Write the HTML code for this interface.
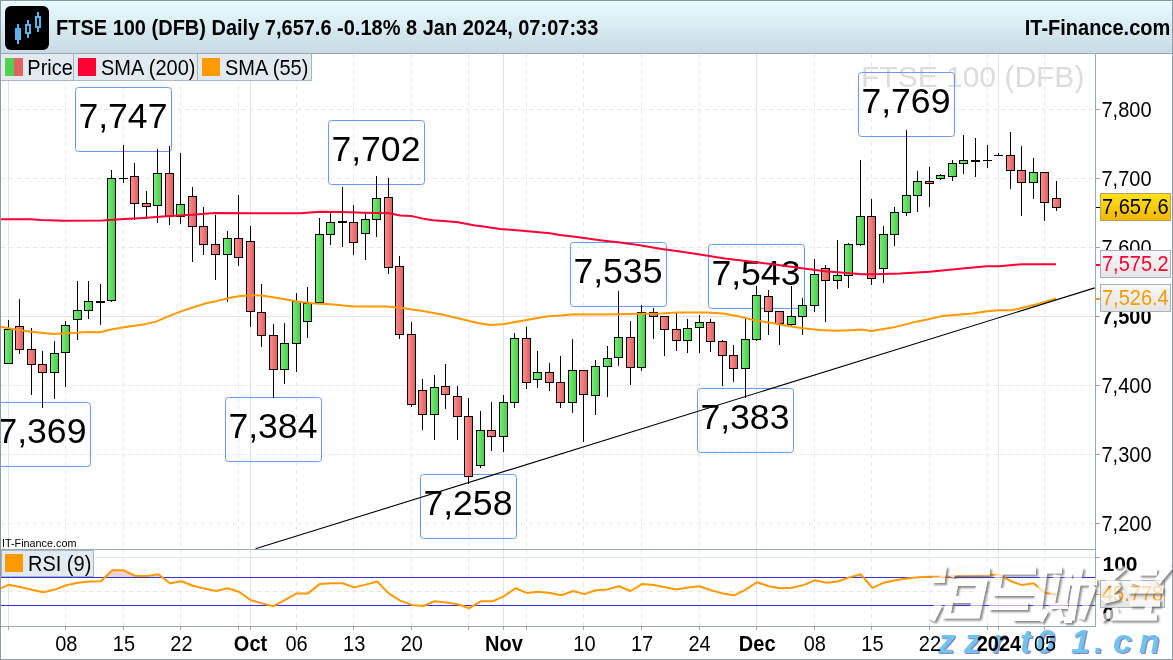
<!DOCTYPE html><html><head><meta charset="utf-8"><title>FTSE 100</title><style>
html,body{margin:0;padding:0;width:1173px;height:660px;overflow:hidden;background:#fff}
svg{display:block}svg text{font-family:"Liberation Sans",sans-serif}
</style></head><body>
<svg width="1173" height="660" viewBox="0 0 1173 660">
<defs>
<linearGradient id="hdr" x1="0" y1="0" x2="0" y2="1"><stop offset="0" stop-color="#e8fcff"/><stop offset="1" stop-color="#c8dae4"/></linearGradient>
<linearGradient id="gf" x1="0" y1="0" x2="1" y2="0"><stop offset="0" stop-color="#74ee74"/><stop offset="1" stop-color="#4ccc4c"/></linearGradient>
<linearGradient id="rf" x1="0" y1="0" x2="1" y2="0"><stop offset="0" stop-color="#ff8c8c"/><stop offset="1" stop-color="#de6262"/></linearGradient>
<linearGradient id="yl" x1="0" y1="0" x2="0" y2="1"><stop offset="0" stop-color="#ffe21a"/><stop offset="1" stop-color="#f2b600"/></linearGradient>
<linearGradient id="lb" x1="0" y1="0" x2="0" y2="1"><stop offset="0" stop-color="#f8f8f8"/><stop offset="1" stop-color="#e4e4e4"/></linearGradient>
</defs>
<rect x="0" y="0" width="1173" height="660" fill="#fff"/>
<g shape-rendering="crispEdges"><line x1="1" y1="523.5" x2="1095" y2="523.5" stroke="#e7e7e7" stroke-width="1" stroke-dasharray="4 4"/><line x1="1" y1="454.5" x2="1095" y2="454.5" stroke="#e7e7e7" stroke-width="1" stroke-dasharray="4 4"/><line x1="1" y1="385.5" x2="1095" y2="385.5" stroke="#e7e7e7" stroke-width="1" stroke-dasharray="4 4"/><line x1="1" y1="316.5" x2="1095" y2="316.5" stroke="#e3e3e3" stroke-width="1"/><line x1="1" y1="247.5" x2="1095" y2="247.5" stroke="#e7e7e7" stroke-width="1" stroke-dasharray="4 4"/><line x1="1" y1="178.5" x2="1095" y2="178.5" stroke="#e7e7e7" stroke-width="1" stroke-dasharray="4 4"/><line x1="1" y1="109.5" x2="1095" y2="109.5" stroke="#e7e7e7" stroke-width="1" stroke-dasharray="4 4"/><line x1="8.5" y1="54" x2="8.5" y2="626" stroke="#e3e3e3" stroke-width="1"/><line x1="65.5" y1="54" x2="65.5" y2="626" stroke="#e7e7e7" stroke-width="1" stroke-dasharray="4 4"/><line x1="123.5" y1="54" x2="123.5" y2="626" stroke="#e7e7e7" stroke-width="1" stroke-dasharray="4 4"/><line x1="180.5" y1="54" x2="180.5" y2="626" stroke="#e7e7e7" stroke-width="1" stroke-dasharray="4 4"/><line x1="238.5" y1="54" x2="238.5" y2="626" stroke="#e7e7e7" stroke-width="1" stroke-dasharray="4 4"/><line x1="250.5" y1="54" x2="250.5" y2="626" stroke="#e3e3e3" stroke-width="1"/><line x1="296.5" y1="54" x2="296.5" y2="626" stroke="#e7e7e7" stroke-width="1" stroke-dasharray="4 4"/><line x1="353.5" y1="54" x2="353.5" y2="626" stroke="#e7e7e7" stroke-width="1" stroke-dasharray="4 4"/><line x1="411.5" y1="54" x2="411.5" y2="626" stroke="#e7e7e7" stroke-width="1" stroke-dasharray="4 4"/><line x1="468.5" y1="54" x2="468.5" y2="626" stroke="#e7e7e7" stroke-width="1" stroke-dasharray="4 4"/><line x1="503.5" y1="54" x2="503.5" y2="626" stroke="#e3e3e3" stroke-width="1"/><line x1="526.5" y1="54" x2="526.5" y2="626" stroke="#e7e7e7" stroke-width="1" stroke-dasharray="4 4"/><line x1="583.5" y1="54" x2="583.5" y2="626" stroke="#e7e7e7" stroke-width="1" stroke-dasharray="4 4"/><line x1="641.5" y1="54" x2="641.5" y2="626" stroke="#e7e7e7" stroke-width="1" stroke-dasharray="4 4"/><line x1="699.5" y1="54" x2="699.5" y2="626" stroke="#e7e7e7" stroke-width="1" stroke-dasharray="4 4"/><line x1="756.5" y1="54" x2="756.5" y2="626" stroke="#e3e3e3" stroke-width="1"/><line x1="814.5" y1="54" x2="814.5" y2="626" stroke="#e7e7e7" stroke-width="1" stroke-dasharray="4 4"/><line x1="871.5" y1="54" x2="871.5" y2="626" stroke="#e7e7e7" stroke-width="1" stroke-dasharray="4 4"/><line x1="929.5" y1="54" x2="929.5" y2="626" stroke="#e7e7e7" stroke-width="1" stroke-dasharray="4 4"/><line x1="987.5" y1="54" x2="987.5" y2="626" stroke="#e7e7e7" stroke-width="1" stroke-dasharray="4 4"/><line x1="998.5" y1="54" x2="998.5" y2="626" stroke="#e3e3e3" stroke-width="1"/><line x1="1044.5" y1="54" x2="1044.5" y2="626" stroke="#e7e7e7" stroke-width="1" stroke-dasharray="4 4"/></g>
<text x="861" y="86.5" font-size="30" fill="#dcdcdc">FTSE 100 (DFB)</text>
<rect x="75.5" y="87.5" width="96" height="64" rx="3" ry="3" fill="none" stroke="#6b9af2" stroke-width="1"/>
<text x="78.4" y="128.1" font-size="35.6" fill="#000">7,747</text>
<rect x="328.5" y="120.5" width="96" height="64" rx="3" ry="3" fill="none" stroke="#6b9af2" stroke-width="1"/>
<text x="331.4" y="161.1" font-size="35.6" fill="#000">7,702</text>
<rect x="858.5" y="72.5" width="96" height="64" rx="3" ry="3" fill="none" stroke="#6b9af2" stroke-width="1"/>
<text x="861.4" y="113.1" font-size="35.6" fill="#000">7,769</text>
<rect x="570.5" y="242.5" width="96" height="64" rx="3" ry="3" fill="none" stroke="#6b9af2" stroke-width="1"/>
<text x="573.4" y="283.1" font-size="35.6" fill="#000">7,535</text>
<rect x="708.5" y="244.5" width="96" height="64" rx="3" ry="3" fill="none" stroke="#6b9af2" stroke-width="1"/>
<text x="711.4" y="285.1" font-size="35.6" fill="#000">7,543</text>
<rect x="-5.5" y="402.5" width="96" height="64" rx="3" ry="3" fill="none" stroke="#6b9af2" stroke-width="1"/>
<text x="-2.6" y="443.1" font-size="35.6" fill="#000">7,369</text>
<rect x="225.5" y="397.5" width="96" height="64" rx="3" ry="3" fill="none" stroke="#6b9af2" stroke-width="1"/>
<text x="228.4" y="438.1" font-size="35.6" fill="#000">7,384</text>
<rect x="420.5" y="474.5" width="96" height="64" rx="3" ry="3" fill="none" stroke="#6b9af2" stroke-width="1"/>
<text x="423.4" y="515.1" font-size="35.6" fill="#000">7,258</text>
<rect x="697.5" y="388.5" width="96" height="64" rx="3" ry="3" fill="none" stroke="#6b9af2" stroke-width="1"/>
<text x="700.4" y="429.1" font-size="35.6" fill="#000">7,383</text>
<g shape-rendering="crispEdges"><rect x="8" y="320" width="1" height="44" fill="#000"/><rect x="4" y="329" width="9" height="35" fill="#000"/><rect x="5" y="330" width="7" height="33" fill="url(#gf)"/><rect x="19" y="299" width="1" height="55" fill="#000"/><rect x="15" y="326" width="9" height="24" fill="#000"/><rect x="16" y="327" width="7" height="22" fill="url(#rf)"/><rect x="31" y="328" width="1" height="67" fill="#000"/><rect x="27" y="349" width="9" height="16" fill="#000"/><rect x="28" y="350" width="7" height="14" fill="url(#rf)"/><rect x="42" y="351" width="1" height="57" fill="#000"/><rect x="38" y="364" width="9" height="9" fill="#000"/><rect x="39" y="365" width="7" height="7" fill="url(#rf)"/><rect x="54" y="341" width="1" height="58" fill="#000"/><rect x="50" y="353" width="9" height="20" fill="#000"/><rect x="51" y="354" width="7" height="18" fill="url(#gf)"/><rect x="65" y="321" width="1" height="66" fill="#000"/><rect x="61" y="325" width="9" height="28" fill="#000"/><rect x="62" y="326" width="7" height="26" fill="url(#gf)"/><rect x="77" y="281" width="1" height="59" fill="#000"/><rect x="73" y="310" width="9" height="10" fill="#000"/><rect x="74" y="311" width="7" height="8" fill="url(#gf)"/><rect x="88" y="281" width="1" height="38" fill="#000"/><rect x="84" y="301" width="9" height="10" fill="#000"/><rect x="85" y="302" width="7" height="8" fill="url(#gf)"/><rect x="100" y="284" width="1" height="41" fill="#000"/><rect x="96" y="301" width="9" height="2" fill="#000"/><rect x="111" y="170" width="1" height="132" fill="#000"/><rect x="107" y="178" width="9" height="123" fill="#000"/><rect x="108" y="179" width="7" height="121" fill="url(#gf)"/><rect x="123" y="145" width="1" height="38" fill="#000"/><rect x="119" y="178" width="9" height="1" fill="#000"/><rect x="134" y="163" width="1" height="57" fill="#000"/><rect x="130" y="176" width="9" height="28" fill="#000"/><rect x="131" y="177" width="7" height="26" fill="url(#rf)"/><rect x="146" y="191" width="1" height="28" fill="#000"/><rect x="142" y="203" width="9" height="4" fill="#000"/><rect x="143" y="204" width="7" height="2" fill="url(#rf)"/><rect x="157" y="149" width="1" height="74" fill="#000"/><rect x="153" y="173" width="9" height="33" fill="#000"/><rect x="154" y="174" width="7" height="31" fill="url(#gf)"/><rect x="169" y="146" width="1" height="79" fill="#000"/><rect x="165" y="173" width="9" height="44" fill="#000"/><rect x="166" y="174" width="7" height="42" fill="url(#rf)"/><rect x="180" y="153" width="1" height="71" fill="#000"/><rect x="176" y="204" width="9" height="13" fill="#000"/><rect x="177" y="205" width="7" height="11" fill="url(#gf)"/><rect x="192" y="187" width="1" height="75" fill="#000"/><rect x="188" y="196" width="9" height="31" fill="#000"/><rect x="189" y="197" width="7" height="29" fill="url(#rf)"/><rect x="203" y="207" width="1" height="48" fill="#000"/><rect x="199" y="226" width="9" height="19" fill="#000"/><rect x="200" y="227" width="7" height="17" fill="url(#rf)"/><rect x="215" y="215" width="1" height="65" fill="#000"/><rect x="211" y="244" width="9" height="11" fill="#000"/><rect x="212" y="245" width="7" height="9" fill="url(#rf)"/><rect x="227" y="231" width="1" height="71" fill="#000"/><rect x="223" y="238" width="9" height="17" fill="#000"/><rect x="224" y="239" width="7" height="15" fill="url(#gf)"/><rect x="238" y="195" width="1" height="71" fill="#000"/><rect x="234" y="238" width="9" height="20" fill="#000"/><rect x="235" y="239" width="7" height="18" fill="url(#rf)"/><rect x="250" y="226" width="1" height="101" fill="#000"/><rect x="246" y="241" width="9" height="71" fill="#000"/><rect x="247" y="242" width="7" height="69" fill="url(#rf)"/><rect x="261" y="284" width="1" height="63" fill="#000"/><rect x="257" y="312" width="9" height="24" fill="#000"/><rect x="258" y="313" width="7" height="22" fill="url(#rf)"/><rect x="273" y="324" width="1" height="74" fill="#000"/><rect x="269" y="335" width="9" height="35" fill="#000"/><rect x="270" y="336" width="7" height="33" fill="url(#rf)"/><rect x="284" y="323" width="1" height="61" fill="#000"/><rect x="280" y="343" width="9" height="27" fill="#000"/><rect x="281" y="344" width="7" height="25" fill="url(#gf)"/><rect x="296" y="293" width="1" height="79" fill="#000"/><rect x="292" y="301" width="9" height="43" fill="#000"/><rect x="293" y="302" width="7" height="41" fill="url(#gf)"/><rect x="307" y="287" width="1" height="51" fill="#000"/><rect x="303" y="303" width="9" height="19" fill="#000"/><rect x="304" y="304" width="7" height="17" fill="url(#gf)"/><rect x="319" y="218" width="1" height="85" fill="#000"/><rect x="315" y="234" width="9" height="69" fill="#000"/><rect x="316" y="235" width="7" height="67" fill="url(#gf)"/><rect x="330" y="212" width="1" height="33" fill="#000"/><rect x="326" y="222" width="9" height="13" fill="#000"/><rect x="327" y="223" width="7" height="11" fill="url(#gf)"/><rect x="342" y="187" width="1" height="60" fill="#000"/><rect x="338" y="221" width="9" height="2" fill="#000"/><rect x="353" y="205" width="1" height="50" fill="#000"/><rect x="349" y="222" width="9" height="21" fill="#000"/><rect x="350" y="223" width="7" height="19" fill="url(#rf)"/><rect x="365" y="212" width="1" height="48" fill="#000"/><rect x="361" y="219" width="9" height="15" fill="#000"/><rect x="362" y="220" width="7" height="13" fill="url(#gf)"/><rect x="376" y="176" width="1" height="61" fill="#000"/><rect x="372" y="198" width="9" height="22" fill="#000"/><rect x="373" y="199" width="7" height="20" fill="url(#gf)"/><rect x="388" y="178" width="1" height="96" fill="#000"/><rect x="384" y="197" width="9" height="71" fill="#000"/><rect x="385" y="198" width="7" height="69" fill="url(#rf)"/><rect x="399" y="256" width="1" height="83" fill="#000"/><rect x="395" y="266" width="9" height="69" fill="#000"/><rect x="396" y="267" width="7" height="67" fill="url(#rf)"/><rect x="411" y="322" width="1" height="85" fill="#000"/><rect x="407" y="334" width="9" height="71" fill="#000"/><rect x="408" y="335" width="7" height="69" fill="url(#rf)"/><rect x="422" y="379" width="1" height="51" fill="#000"/><rect x="418" y="390" width="9" height="25" fill="#000"/><rect x="419" y="391" width="7" height="23" fill="url(#rf)"/><rect x="434" y="375" width="1" height="65" fill="#000"/><rect x="430" y="387" width="9" height="28" fill="#000"/><rect x="431" y="388" width="7" height="26" fill="url(#gf)"/><rect x="445" y="364" width="1" height="45" fill="#000"/><rect x="441" y="386" width="9" height="9" fill="#000"/><rect x="442" y="387" width="7" height="7" fill="url(#rf)"/><rect x="457" y="386" width="1" height="54" fill="#000"/><rect x="453" y="396" width="9" height="21" fill="#000"/><rect x="454" y="397" width="7" height="19" fill="url(#rf)"/><rect x="468" y="398" width="1" height="86" fill="#000"/><rect x="464" y="416" width="9" height="61" fill="#000"/><rect x="465" y="417" width="7" height="59" fill="url(#rf)"/><rect x="480" y="411" width="1" height="57" fill="#000"/><rect x="476" y="430" width="9" height="36" fill="#000"/><rect x="477" y="431" width="7" height="34" fill="url(#gf)"/><rect x="491" y="402" width="1" height="49" fill="#000"/><rect x="487" y="430" width="9" height="7" fill="#000"/><rect x="488" y="431" width="7" height="5" fill="url(#rf)"/><rect x="503" y="395" width="1" height="57" fill="#000"/><rect x="499" y="402" width="9" height="35" fill="#000"/><rect x="500" y="403" width="7" height="33" fill="url(#gf)"/><rect x="514" y="333" width="1" height="75" fill="#000"/><rect x="510" y="338" width="9" height="65" fill="#000"/><rect x="511" y="339" width="7" height="63" fill="url(#gf)"/><rect x="526" y="327" width="1" height="62" fill="#000"/><rect x="522" y="338" width="9" height="45" fill="#000"/><rect x="523" y="339" width="7" height="43" fill="url(#rf)"/><rect x="537" y="351" width="1" height="37" fill="#000"/><rect x="533" y="372" width="9" height="8" fill="#000"/><rect x="534" y="373" width="7" height="6" fill="url(#gf)"/><rect x="549" y="363" width="1" height="28" fill="#000"/><rect x="545" y="372" width="9" height="11" fill="#000"/><rect x="546" y="373" width="7" height="9" fill="url(#rf)"/><rect x="560" y="356" width="1" height="52" fill="#000"/><rect x="556" y="382" width="9" height="21" fill="#000"/><rect x="557" y="383" width="7" height="19" fill="url(#rf)"/><rect x="572" y="339" width="1" height="74" fill="#000"/><rect x="568" y="370" width="9" height="33" fill="#000"/><rect x="569" y="371" width="7" height="31" fill="url(#gf)"/><rect x="583" y="370" width="1" height="72" fill="#000"/><rect x="579" y="370" width="9" height="25" fill="#000"/><rect x="580" y="371" width="7" height="23" fill="url(#rf)"/><rect x="595" y="360" width="1" height="55" fill="#000"/><rect x="591" y="366" width="9" height="30" fill="#000"/><rect x="592" y="367" width="7" height="28" fill="url(#gf)"/><rect x="607" y="346" width="1" height="51" fill="#000"/><rect x="603" y="358" width="9" height="9" fill="#000"/><rect x="604" y="359" width="7" height="7" fill="url(#gf)"/><rect x="618" y="291" width="1" height="75" fill="#000"/><rect x="614" y="337" width="9" height="21" fill="#000"/><rect x="615" y="338" width="7" height="19" fill="url(#gf)"/><rect x="630" y="321" width="1" height="64" fill="#000"/><rect x="626" y="337" width="9" height="31" fill="#000"/><rect x="627" y="338" width="7" height="29" fill="url(#rf)"/><rect x="641" y="305" width="1" height="66" fill="#000"/><rect x="637" y="312" width="9" height="56" fill="#000"/><rect x="638" y="313" width="7" height="54" fill="url(#gf)"/><rect x="653" y="308" width="1" height="31" fill="#000"/><rect x="649" y="312" width="9" height="5" fill="#000"/><rect x="650" y="313" width="7" height="3" fill="url(#rf)"/><rect x="664" y="316" width="1" height="40" fill="#000"/><rect x="660" y="316" width="9" height="14" fill="#000"/><rect x="661" y="317" width="7" height="12" fill="url(#rf)"/><rect x="676" y="313" width="1" height="38" fill="#000"/><rect x="672" y="329" width="9" height="12" fill="#000"/><rect x="673" y="330" width="7" height="10" fill="url(#rf)"/><rect x="687" y="319" width="1" height="34" fill="#000"/><rect x="683" y="328" width="9" height="13" fill="#000"/><rect x="684" y="329" width="7" height="11" fill="url(#gf)"/><rect x="699" y="315" width="1" height="38" fill="#000"/><rect x="695" y="322" width="9" height="6" fill="#000"/><rect x="696" y="323" width="7" height="4" fill="url(#gf)"/><rect x="710" y="319" width="1" height="33" fill="#000"/><rect x="706" y="322" width="9" height="20" fill="#000"/><rect x="707" y="323" width="7" height="18" fill="url(#rf)"/><rect x="722" y="340" width="1" height="46" fill="#000"/><rect x="718" y="341" width="9" height="15" fill="#000"/><rect x="719" y="342" width="7" height="13" fill="url(#rf)"/><rect x="733" y="345" width="1" height="37" fill="#000"/><rect x="729" y="355" width="9" height="14" fill="#000"/><rect x="730" y="356" width="7" height="12" fill="url(#rf)"/><rect x="745" y="318" width="1" height="80" fill="#000"/><rect x="741" y="339" width="9" height="30" fill="#000"/><rect x="742" y="340" width="7" height="28" fill="url(#gf)"/><rect x="756" y="286" width="1" height="55" fill="#000"/><rect x="752" y="295" width="9" height="45" fill="#000"/><rect x="753" y="296" width="7" height="43" fill="url(#gf)"/><rect x="768" y="290" width="1" height="45" fill="#000"/><rect x="764" y="296" width="9" height="16" fill="#000"/><rect x="765" y="297" width="7" height="14" fill="url(#rf)"/><rect x="779" y="311" width="1" height="34" fill="#000"/><rect x="775" y="311" width="9" height="13" fill="#000"/><rect x="776" y="312" width="7" height="11" fill="url(#rf)"/><rect x="791" y="286" width="1" height="40" fill="#000"/><rect x="787" y="316" width="9" height="9" fill="#000"/><rect x="788" y="317" width="7" height="7" fill="url(#gf)"/><rect x="802" y="298" width="1" height="37" fill="#000"/><rect x="798" y="305" width="9" height="12" fill="#000"/><rect x="799" y="306" width="7" height="10" fill="url(#gf)"/><rect x="814" y="259" width="1" height="53" fill="#000"/><rect x="810" y="274" width="9" height="32" fill="#000"/><rect x="811" y="275" width="7" height="30" fill="url(#gf)"/><rect x="825" y="265" width="1" height="57" fill="#000"/><rect x="821" y="268" width="9" height="13" fill="#000"/><rect x="822" y="269" width="7" height="11" fill="url(#rf)"/><rect x="837" y="240" width="1" height="49" fill="#000"/><rect x="833" y="275" width="9" height="6" fill="#000"/><rect x="834" y="276" width="7" height="4" fill="url(#gf)"/><rect x="848" y="243" width="1" height="45" fill="#000"/><rect x="844" y="244" width="9" height="32" fill="#000"/><rect x="845" y="245" width="7" height="30" fill="url(#gf)"/><rect x="860" y="160" width="1" height="86" fill="#000"/><rect x="856" y="216" width="9" height="29" fill="#000"/><rect x="857" y="217" width="7" height="27" fill="url(#gf)"/><rect x="871" y="199" width="1" height="86" fill="#000"/><rect x="867" y="216" width="9" height="63" fill="#000"/><rect x="868" y="217" width="7" height="61" fill="url(#rf)"/><rect x="883" y="226" width="1" height="57" fill="#000"/><rect x="879" y="234" width="9" height="35" fill="#000"/><rect x="880" y="235" width="7" height="33" fill="url(#gf)"/><rect x="894" y="207" width="1" height="39" fill="#000"/><rect x="890" y="212" width="9" height="23" fill="#000"/><rect x="891" y="213" width="7" height="21" fill="url(#gf)"/><rect x="906" y="130" width="1" height="86" fill="#000"/><rect x="902" y="195" width="9" height="18" fill="#000"/><rect x="903" y="196" width="7" height="16" fill="url(#gf)"/><rect x="917" y="171" width="1" height="41" fill="#000"/><rect x="913" y="181" width="9" height="15" fill="#000"/><rect x="914" y="182" width="7" height="13" fill="url(#gf)"/><rect x="929" y="167" width="1" height="40" fill="#000"/><rect x="925" y="181" width="9" height="3" fill="#000"/><rect x="926" y="182" width="7" height="1" fill="url(#rf)"/><rect x="940" y="174" width="1" height="6" fill="#000"/><rect x="936" y="175" width="9" height="4" fill="#000"/><rect x="937" y="176" width="7" height="2" fill="url(#gf)"/><rect x="952" y="160" width="1" height="21" fill="#000"/><rect x="948" y="163" width="9" height="14" fill="#000"/><rect x="949" y="164" width="7" height="12" fill="url(#gf)"/><rect x="963" y="135" width="1" height="39" fill="#000"/><rect x="959" y="160" width="9" height="4" fill="#000"/><rect x="960" y="161" width="7" height="2" fill="url(#gf)"/><rect x="975" y="138" width="1" height="39" fill="#000"/><rect x="971" y="160" width="9" height="2" fill="#000"/><rect x="987" y="145" width="1" height="23" fill="#000"/><rect x="983" y="160" width="9" height="1" fill="#000"/><rect x="998" y="153" width="1" height="3" fill="#000"/><rect x="994" y="155" width="9" height="1" fill="#000"/><rect x="1010" y="132" width="1" height="57" fill="#000"/><rect x="1006" y="155" width="9" height="16" fill="#000"/><rect x="1007" y="156" width="7" height="14" fill="url(#rf)"/><rect x="1021" y="146" width="1" height="70" fill="#000"/><rect x="1017" y="170" width="9" height="13" fill="#000"/><rect x="1018" y="171" width="7" height="11" fill="url(#rf)"/><rect x="1033" y="158" width="1" height="41" fill="#000"/><rect x="1029" y="172" width="9" height="11" fill="#000"/><rect x="1030" y="173" width="7" height="9" fill="url(#gf)"/><rect x="1044" y="172" width="1" height="49" fill="#000"/><rect x="1040" y="172" width="9" height="31" fill="#000"/><rect x="1041" y="173" width="7" height="29" fill="url(#rf)"/><rect x="1056" y="181" width="1" height="30" fill="#000"/><rect x="1052" y="198" width="9" height="10" fill="#000"/><rect x="1053" y="199" width="7" height="8" fill="url(#rf)"/></g>
<polyline points="0.0,219.3 30.7,219.3 40.9,220.0 64.0,220.8 102.3,220.6 120.2,219.3 143.2,218.0 166.2,216.2 191.8,214.7 214.8,212.9 255.8,213.2 300.0,213.2 320.5,211.8 340.9,212.0 363.9,212.8 389.5,213.3 400.0,215.5 411.0,215.9 425.0,219.1 433.0,220.2 450.0,221.6 458.0,222.3 475.0,225.5 480.0,226.1 500.0,228.9 525.0,231.1 550.0,233.2 560.0,235.0 575.0,236.7 600.0,240.2 620.0,242.6 640.0,245.3 660.0,248.8 680.0,251.5 700.0,254.5 725.0,258.6 750.0,261.6 775.0,264.6 800.0,268.0 825.0,271.3 850.0,273.2 862.0,274.2 875.0,274.3 900.0,273.6 929.6,271.7 962.3,268.6 986.9,266.2 999.1,266.2 1021.6,264.3 1056.0,264.3" fill="none" stroke="#ff0033" stroke-width="2" stroke-linejoin="round"/>
<polyline points="0.0,326.7 12.8,329.0 25.6,331.0 38.4,332.6 53.7,334.1 66.5,333.1 76.7,332.8 87.0,332.1 99.7,332.3 110.0,329.8 125.3,327.0 143.2,324.6 156.0,321.6 168.8,316.2 181.6,311.1 194.4,307.0 207.2,302.9 217.4,300.9 230.2,297.8 240.4,296.0 255.8,295.2 263.4,295.7 276.2,297.8 300.0,302.0 315.3,303.6 330.7,304.3 353.7,306.4 387.0,306.4 402.3,307.9 422.8,311.0 443.2,314.8 466.2,320.2 479.0,323.2 490.5,325.0 504.6,324.0 525.0,320.2 548.0,316.3 560.9,315.6 573.7,314.3 590.0,314.5 615.6,314.2 641.2,313.7 661.6,313.4 677.0,312.4 707.6,312.4 723.0,313.4 738.3,316.2 753.7,320.1 769.0,322.6 784.4,325.2 802.3,328.2 820.2,330.0 835.5,330.8 850.9,330.3 861.1,329.5 871.3,331.0 892.7,327.6 917.3,321.4 929.6,319.0 941.8,316.1 972.5,313.6 986.9,311.2 999.1,310.2 1011.4,310.2 1023.7,307.5 1040.0,303.4 1056.0,298.5" fill="none" stroke="#ff9900" stroke-width="2" stroke-linejoin="round"/>
<line x1="255.5" y1="548.8" x2="1094.8" y2="287.9" stroke="#000" stroke-width="1.1"/>
<rect x="1" y="550" width="1094" height="76" fill="#fff"/><g shape-rendering="crispEdges"><line x1="8.5" y1="550" x2="8.5" y2="626" stroke="#e3e3e3"/><line x1="65.5" y1="550" x2="65.5" y2="626" stroke="#e7e7e7" stroke-dasharray="4 4"/><line x1="123.5" y1="550" x2="123.5" y2="626" stroke="#e7e7e7" stroke-dasharray="4 4"/><line x1="180.5" y1="550" x2="180.5" y2="626" stroke="#e7e7e7" stroke-dasharray="4 4"/><line x1="238.5" y1="550" x2="238.5" y2="626" stroke="#e7e7e7" stroke-dasharray="4 4"/><line x1="250.5" y1="550" x2="250.5" y2="626" stroke="#e3e3e3"/><line x1="296.5" y1="550" x2="296.5" y2="626" stroke="#e7e7e7" stroke-dasharray="4 4"/><line x1="353.5" y1="550" x2="353.5" y2="626" stroke="#e7e7e7" stroke-dasharray="4 4"/><line x1="411.5" y1="550" x2="411.5" y2="626" stroke="#e7e7e7" stroke-dasharray="4 4"/><line x1="468.5" y1="550" x2="468.5" y2="626" stroke="#e7e7e7" stroke-dasharray="4 4"/><line x1="503.5" y1="550" x2="503.5" y2="626" stroke="#e3e3e3"/><line x1="526.5" y1="550" x2="526.5" y2="626" stroke="#e7e7e7" stroke-dasharray="4 4"/><line x1="583.5" y1="550" x2="583.5" y2="626" stroke="#e7e7e7" stroke-dasharray="4 4"/><line x1="641.5" y1="550" x2="641.5" y2="626" stroke="#e7e7e7" stroke-dasharray="4 4"/><line x1="699.5" y1="550" x2="699.5" y2="626" stroke="#e7e7e7" stroke-dasharray="4 4"/><line x1="756.5" y1="550" x2="756.5" y2="626" stroke="#e3e3e3"/><line x1="814.5" y1="550" x2="814.5" y2="626" stroke="#e7e7e7" stroke-dasharray="4 4"/><line x1="871.5" y1="550" x2="871.5" y2="626" stroke="#e7e7e7" stroke-dasharray="4 4"/><line x1="929.5" y1="550" x2="929.5" y2="626" stroke="#e7e7e7" stroke-dasharray="4 4"/><line x1="987.5" y1="550" x2="987.5" y2="626" stroke="#e7e7e7" stroke-dasharray="4 4"/><line x1="998.5" y1="550" x2="998.5" y2="626" stroke="#e3e3e3"/><line x1="1044.5" y1="550" x2="1044.5" y2="626" stroke="#e7e7e7" stroke-dasharray="4 4"/><line x1="1" y1="557.5" x2="1095" y2="557.5" stroke="#e3e3e3"/><line x1="1" y1="591.5" x2="1095" y2="591.5" stroke="#e7e7e7" stroke-dasharray="4 4"/></g>
<clipPath id="ob"><rect x="0" y="550" width="1095" height="27.5"/></clipPath>
<polygon points="0.0,577.5 0.0,588.6 8.7,584.8 20.2,587.0 31.8,589.8 43.3,592.2 54.8,589.6 66.3,585.3 77.8,582.7 89.3,581.5 100.9,581.2 112.4,570.3 123.9,570.3 135.4,576.0 146.9,576.0 158.4,574.3 169.9,583.2 181.5,581.2 193.0,585.8 204.5,588.6 216.0,591.0 227.5,588.2 239.0,591.7 250.5,600.0 262.1,603.4 273.6,606.2 285.1,599.9 296.6,593.4 308.1,593.4 319.6,584.1 331.2,583.2 342.7,583.2 354.2,587.4 365.7,584.6 377.2,581.5 388.7,593.4 400.2,600.6 411.8,604.9 423.3,606.0 434.8,601.3 446.3,602.5 457.8,604.2 469.3,608.2 480.8,601.3 492.4,601.3 503.9,596.3 515.4,588.2 526.9,592.9 538.4,591.7 549.9,592.9 561.5,595.3 573.0,591.0 584.5,594.1 596.0,590.3 607.5,589.4 619.0,586.3 630.5,591.0 642.1,584.1 653.6,585.1 665.1,587.2 676.6,589.4 688.1,587.4 699.6,586.3 711.1,590.3 722.7,593.4 734.2,595.3 745.7,589.6 757.2,582.2 768.7,586.3 780.2,588.2 791.8,587.8 803.3,585.1 814.8,580.3 826.3,582.7 837.8,581.5 849.3,577.4 860.8,574.3 872.4,587.9 883.9,582.7 895.4,580.3 906.9,578.4 918.4,577.2 929.9,576.7 941.4,576.7 953.0,576.2 964.5,575.8 976.0,575.5 987.5,575.5 999.0,574.3 1010.5,581.0 1022.1,585.1 1033.6,583.2 1045.1,592.9 1056.6,594.4 1056.6,577.5" fill="#ecd2d4" clip-path="url(#ob)"/>
<g shape-rendering="crispEdges"><line x1="1" y1="577.5" x2="1095" y2="577.5" stroke="#3333dd"/><line x1="1" y1="605.5" x2="1095" y2="605.5" stroke="#3333dd"/></g>
<polyline points="0.0,588.6 8.7,584.8 20.2,587.0 31.8,589.8 43.3,592.2 54.8,589.6 66.3,585.3 77.8,582.7 89.3,581.5 100.9,581.2 112.4,570.3 123.9,570.3 135.4,576.0 146.9,576.0 158.4,574.3 169.9,583.2 181.5,581.2 193.0,585.8 204.5,588.6 216.0,591.0 227.5,588.2 239.0,591.7 250.5,600.0 262.1,603.4 273.6,606.2 285.1,599.9 296.6,593.4 308.1,593.4 319.6,584.1 331.2,583.2 342.7,583.2 354.2,587.4 365.7,584.6 377.2,581.5 388.7,593.4 400.2,600.6 411.8,604.9 423.3,606.0 434.8,601.3 446.3,602.5 457.8,604.2 469.3,608.2 480.8,601.3 492.4,601.3 503.9,596.3 515.4,588.2 526.9,592.9 538.4,591.7 549.9,592.9 561.5,595.3 573.0,591.0 584.5,594.1 596.0,590.3 607.5,589.4 619.0,586.3 630.5,591.0 642.1,584.1 653.6,585.1 665.1,587.2 676.6,589.4 688.1,587.4 699.6,586.3 711.1,590.3 722.7,593.4 734.2,595.3 745.7,589.6 757.2,582.2 768.7,586.3 780.2,588.2 791.8,587.8 803.3,585.1 814.8,580.3 826.3,582.7 837.8,581.5 849.3,577.4 860.8,574.3 872.4,587.9 883.9,582.7 895.4,580.3 906.9,578.4 918.4,577.2 929.9,576.7 941.4,576.7 953.0,576.2 964.5,575.8 976.0,575.5 987.5,575.5 999.0,574.3 1010.5,581.0 1022.1,585.1 1033.6,583.2 1045.1,592.9 1056.6,594.4" fill="none" stroke="#ff9900" stroke-width="2" stroke-linejoin="round"/>
<g shape-rendering="crispEdges">
<rect x="1" y="549" width="1095" height="1" fill="#98a8b4"/>
<rect x="1" y="626" width="1095" height="1" fill="#98a8b4"/>
<rect x="1095" y="54" width="1" height="573" fill="#98a8b4"/>
<rect x="8" y="627" width="1" height="3" fill="#98a8b4"/>
<rect x="65" y="627" width="1" height="3" fill="#98a8b4"/>
<rect x="123" y="627" width="1" height="3" fill="#98a8b4"/>
<rect x="180" y="627" width="1" height="3" fill="#98a8b4"/>
<rect x="238" y="627" width="1" height="3" fill="#98a8b4"/>
<rect x="250" y="627" width="1" height="3" fill="#98a8b4"/>
<rect x="296" y="627" width="1" height="3" fill="#98a8b4"/>
<rect x="353" y="627" width="1" height="3" fill="#98a8b4"/>
<rect x="411" y="627" width="1" height="3" fill="#98a8b4"/>
<rect x="468" y="627" width="1" height="3" fill="#98a8b4"/>
<rect x="503" y="627" width="1" height="3" fill="#98a8b4"/>
<rect x="526" y="627" width="1" height="3" fill="#98a8b4"/>
<rect x="583" y="627" width="1" height="3" fill="#98a8b4"/>
<rect x="641" y="627" width="1" height="3" fill="#98a8b4"/>
<rect x="699" y="627" width="1" height="3" fill="#98a8b4"/>
<rect x="756" y="627" width="1" height="3" fill="#98a8b4"/>
<rect x="814" y="627" width="1" height="3" fill="#98a8b4"/>
<rect x="871" y="627" width="1" height="3" fill="#98a8b4"/>
<rect x="929" y="627" width="1" height="3" fill="#98a8b4"/>
<rect x="987" y="627" width="1" height="3" fill="#98a8b4"/>
<rect x="998" y="627" width="1" height="3" fill="#98a8b4"/>
<rect x="1044" y="627" width="1" height="3" fill="#98a8b4"/>
<rect x="1096" y="523" width="4" height="1" fill="#98a8b4"/>
<rect x="1096" y="454" width="4" height="1" fill="#98a8b4"/>
<rect x="1096" y="385" width="4" height="1" fill="#98a8b4"/>
<rect x="1096" y="316" width="4" height="1" fill="#98a8b4"/>
<rect x="1096" y="247" width="4" height="1" fill="#98a8b4"/>
<rect x="1096" y="178" width="4" height="1" fill="#98a8b4"/>
<rect x="1096" y="109" width="4" height="1" fill="#98a8b4"/>
<rect x="1096" y="557" width="4" height="1" fill="#98a8b4"/>
</g>
<text x="1101.5" y="531.0" transform="matrix(1,0,0,1.07,0,-37.170)" font-size="20" fill="#000">7,200</text>
<text x="1101.5" y="462.0" transform="matrix(1,0,0,1.07,0,-32.340)" font-size="20" fill="#000">7,300</text>
<text x="1101.5" y="393.0" transform="matrix(1,0,0,1.07,0,-27.510)" font-size="20" fill="#000">7,400</text>
<text x="1101.5" y="324.0" transform="matrix(1,0,0,1.07,0,-22.680)" font-size="20" font-weight="bold" fill="#000">7,500</text>
<text x="1101.5" y="255.0" transform="matrix(1,0,0,1.07,0,-17.850)" font-size="20" fill="#000">7,600</text>
<text x="1101.5" y="186.0" transform="matrix(1,0,0,1.07,0,-13.020)" font-size="20" fill="#000">7,700</text>
<text x="1101.5" y="117.0" transform="matrix(1,0,0,1.07,0,-8.190)" font-size="20" fill="#000">7,800</text>
<text x="66.3" y="651" transform="matrix(1,0,0,1.07,0,-45.570)" font-size="20" text-anchor="middle" fill="#000">08</text>
<text x="123.9" y="651" transform="matrix(1,0,0,1.07,0,-45.570)" font-size="20" text-anchor="middle" fill="#000">15</text>
<text x="181.5" y="651" transform="matrix(1,0,0,1.07,0,-45.570)" font-size="20" text-anchor="middle" fill="#000">22</text>
<text x="250.5" y="651" transform="matrix(1,0,0,1.07,0,-45.570)" font-size="20" text-anchor="middle" font-weight="bold" fill="#000">Oct</text>
<text x="296.6" y="651" transform="matrix(1,0,0,1.07,0,-45.570)" font-size="20" text-anchor="middle" fill="#000">06</text>
<text x="354.2" y="651" transform="matrix(1,0,0,1.07,0,-45.570)" font-size="20" text-anchor="middle" fill="#000">13</text>
<text x="411.8" y="651" transform="matrix(1,0,0,1.07,0,-45.570)" font-size="20" text-anchor="middle" fill="#000">20</text>
<text x="503.9" y="651" transform="matrix(1,0,0,1.07,0,-45.570)" font-size="20" text-anchor="middle" font-weight="bold" fill="#000">Nov</text>
<text x="584.5" y="651" transform="matrix(1,0,0,1.07,0,-45.570)" font-size="20" text-anchor="middle" fill="#000">10</text>
<text x="642.1" y="651" transform="matrix(1,0,0,1.07,0,-45.570)" font-size="20" text-anchor="middle" fill="#000">17</text>
<text x="699.6" y="651" transform="matrix(1,0,0,1.07,0,-45.570)" font-size="20" text-anchor="middle" fill="#000">24</text>
<text x="757.2" y="651" transform="matrix(1,0,0,1.07,0,-45.570)" font-size="20" text-anchor="middle" font-weight="bold" fill="#000">Dec</text>
<text x="814.8" y="651" transform="matrix(1,0,0,1.07,0,-45.570)" font-size="20" text-anchor="middle" fill="#000">08</text>
<text x="872.4" y="651" transform="matrix(1,0,0,1.07,0,-45.570)" font-size="20" text-anchor="middle" fill="#000">15</text>
<text x="929.9" y="651" transform="matrix(1,0,0,1.07,0,-45.570)" font-size="20" text-anchor="middle" fill="#000">22</text>
<text x="999.0" y="651" transform="matrix(1,0,0,1.07,0,-45.570)" font-size="20" text-anchor="middle" font-weight="bold" fill="#000">2024</text>
<text x="1045.1" y="651" transform="matrix(1,0,0,1.07,0,-45.570)" font-size="20" text-anchor="middle" fill="#000">05</text>
<text x="1102.5" y="571" font-size="21" font-weight="bold" fill="#000">100</text>
<text x="1102.5" y="620.5" font-size="21" font-weight="bold" fill="#000">0</text>
<rect x="1096" y="207" width="4" height="1" fill="#000"/>
<rect x="1100.5" y="193.5" width="70" height="27" fill="url(#yl)" stroke="#b8a060"/>
<text x="1102" y="214" transform="matrix(1,0,0,1.07,0,-14.980)" font-size="20" fill="#000">7,657.6</text>
<rect x="1096" y="264" width="4" height="2" fill="#ff0033"/>
<rect x="1100.5" y="250.5" width="70" height="27" fill="url(#lb)" stroke="#a8b4bc"/>
<text x="1102" y="271.5" transform="matrix(1,0,0,1.07,0,-19.005)" font-size="20" fill="#ff0033">7,575.2</text>
<rect x="1096" y="298" width="4" height="2" fill="#ff9900"/>
<rect x="1100.5" y="284.5" width="70" height="27" fill="url(#lb)" stroke="#a8b4bc"/>
<text x="1102" y="305.5" transform="matrix(1,0,0,1.07,0,-21.385)" font-size="20" fill="#ff9900">7,526.4</text>
<rect x="1096" y="594" width="4" height="1" fill="#ff9900"/>
<rect x="1100.5" y="580.5" width="64" height="27" fill="url(#lb)" stroke="#a8b4bc"/>
<text x="1102" y="601" transform="matrix(1,0,0,1.07,0,-42.070)" font-size="20" fill="#ff9900">45.778</text>
<text x="2" y="546.5" font-size="10.8" fill="#000">IT-Finance.com</text>
<rect x="1" y="550" width="92.5" height="26.5" fill="#e2e9ef" stroke="#a8b6c0" shape-rendering="crispEdges"/>
<rect x="5" y="554" width="18" height="18" fill="#ff9900"/>
<text x="28" y="571" transform="matrix(1,0,0,1.07,0,-39.970)" font-size="20" fill="#000">RSI (9)</text>
<rect x="0.5" y="0.5" width="1172" height="53" fill="url(#hdr)" stroke="#8e9ba5"/>
<rect x="1" y="53" width="1171" height="1" fill="#98a8b4"/>
<rect x="5" y="6" width="44" height="44" rx="6" fill="#000"/>
<g fill="#5ab4ea" shape-rendering="crispEdges"><rect x="17" y="24" width="2" height="20"/><rect x="15" y="28" width="6" height="12"/><rect x="27" y="20" width="2" height="18"/><rect x="25" y="24" width="6" height="10"/><rect x="37" y="12" width="2" height="20"/><rect x="35" y="16" width="6" height="12"/></g><g fill="#000" shape-rendering="crispEdges"><rect x="27" y="26" width="2" height="6"/><rect x="37" y="18" width="2" height="8"/></g>
<text x="56" y="35.5" transform="matrix(1,0,0,1.07,0,-2.485)" font-size="20" font-weight="bold" fill="#000">FTSE 100 (DFB) Daily 7,657.6 -0.18% 8 Jan 2024, 07:07:33</text>
<text x="1170.3" y="35.5" transform="matrix(1,0,0,1.07,0,-2.485)" font-size="20" font-weight="bold" fill="#000" text-anchor="end">IT-Finance.com</text>
<rect x="1" y="54" width="310" height="26" fill="#e2e9ef"/>
<g shape-rendering="crispEdges"><rect x="1" y="80" width="311" height="1" fill="#a8b6c0"/><rect x="311" y="54" width="1" height="27" fill="#a8b6c0"/><rect x="73" y="54" width="1" height="26" fill="#a8b6c0"/><rect x="197" y="54" width="1" height="26" fill="#a8b6c0"/></g>
<rect x="5" y="58" width="9" height="18" fill="#4fd24f"/><rect x="14" y="58" width="9" height="18" fill="#e06262"/>
<text x="27.3" y="74.6" transform="matrix(1,0,0,1.07,0,-5.222)" font-size="20" fill="#000">Price</text>
<rect x="78" y="58" width="18" height="18" fill="#ff0033"/>
<text x="101" y="74.6" transform="matrix(1,0,0,1.07,0,-5.222)" font-size="20" fill="#000">SMA (200)</text>
<rect x="202" y="58" width="18" height="18" fill="#ff9900"/>
<text x="225" y="74.6" transform="matrix(1,0,0,1.07,0,-5.222)" font-size="20" fill="#000">SMA (55)</text>
<rect x="0.5" y="0.5" width="1172" height="659" fill="none" stroke="#8e9ba5" shape-rendering="crispEdges"/>
<filter id="ds" x="-10%" y="-10%" width="130%" height="140%" color-interpolation-filters="sRGB"><feGaussianBlur in="SourceAlpha" stdDeviation="0.8"/><feOffset dx="2" dy="1.5" result="b"/><feFlood flood-color="#606060" flood-opacity="0.75"/><feComposite in2="b" operator="in" result="sh"/><feComposite in="sh" in2="SourceAlpha" operator="out" result="sho"/><feComponentTransfer in="SourceGraphic" result="g"><feFuncA type="linear" slope="0.65"/></feComponentTransfer><feMerge><feMergeNode in="sho"/><feMergeNode in="g"/></feMerge></filter>
<g filter="url(#ds)"><g stroke="#fdfdfd" fill="#fdfdfd" stroke-linecap="butt"><path d="M951,579 L988,579 L979.5,618.5 L942,618.5 Z M958,586 L976,586 L974,596 L956,596 Z M953,603 L971,603 L969,613 L951,613 Z" fill-rule="evenodd" stroke="none"/><line x1="950" y1="571.5" x2="990" y2="571.5" stroke-width="8"/><line x1="957" y1="566" x2="951" y2="577" stroke-width="6"/><line x1="944" y1="566" x2="942" y2="579" stroke-width="6"/><line x1="932" y1="580" x2="945" y2="580" stroke-width="6"/><line x1="939" y1="604" x2="931" y2="620" stroke-width="8"/><line x1="999" y1="570.5" x2="1036" y2="570.5" stroke-width="8"/><line x1="1000" y1="567" x2="996" y2="593" stroke-width="8"/><line x1="993" y1="592" x2="1041" y2="592" stroke-width="8"/><line x1="1040" y1="590" x2="1034.5" y2="620" stroke-width="8"/><line x1="989" y1="606" x2="1028" y2="606" stroke-width="8"/><line x1="1013" y1="617.5" x2="1040" y2="617.5" stroke-width="7"/><line x1="1044.5" y1="567" x2="1037.5" y2="619" stroke-width="7"/><line x1="1044" y1="570" x2="1062" y2="570" stroke-width="7"/><line x1="1057" y1="575" x2="1051" y2="606" stroke-width="7"/><line x1="1069" y1="573" x2="1063" y2="606" stroke-width="7"/><line x1="1050" y1="606" x2="1068" y2="606" stroke-width="6"/><line x1="1046" y1="610" x2="1040" y2="621" stroke-width="6"/><line x1="1058" y1="610" x2="1062" y2="621" stroke-width="6"/><line x1="1063" y1="582" x2="1097" y2="582" stroke-width="7"/><line x1="1079.5" y1="567" x2="1070.5" y2="620" stroke-width="8"/><line x1="1064" y1="620" x2="1072" y2="620" stroke-width="6"/><line x1="1093" y1="586" x2="1081" y2="619" stroke-width="7"/><line x1="1124" y1="567" x2="1107" y2="582" stroke-width="7"/><line x1="1107" y1="582" x2="1119" y2="584" stroke-width="6"/><line x1="1119" y1="584" x2="1103" y2="601" stroke-width="7"/><line x1="1103" y1="601" x2="1119" y2="597" stroke-width="6"/><line x1="1101" y1="619" x2="1118" y2="610" stroke-width="7"/><line x1="1139" y1="572" x2="1157" y2="572" stroke-width="7"/><line x1="1170" y1="566" x2="1157" y2="582" stroke-width="7"/><line x1="1131" y1="580" x2="1160" y2="590" stroke-width="6"/><line x1="1128" y1="590" x2="1163" y2="590" stroke-width="7"/><line x1="1130" y1="603" x2="1160" y2="603" stroke-width="7"/><line x1="1149" y1="603" x2="1147" y2="617" stroke-width="7"/><line x1="1110" y1="617" x2="1157" y2="617" stroke-width="7"/></g></g>
<g style="mix-blend-mode:multiply"><text x="938 964 992 1020 1036 1071 1094 1113 1139" y="653" transform="translate(1.2,1.2)" font-size="34" font-weight="bold" font-style="italic" fill="#8a84c0">zzrt01.cn</text><text x="938 964 992 1020 1036 1071 1094 1113 1139" y="653" font-size="34" font-weight="bold" font-style="italic" fill="#6fc3ee">zzrt01.cn</text></g>
</svg></body></html>
